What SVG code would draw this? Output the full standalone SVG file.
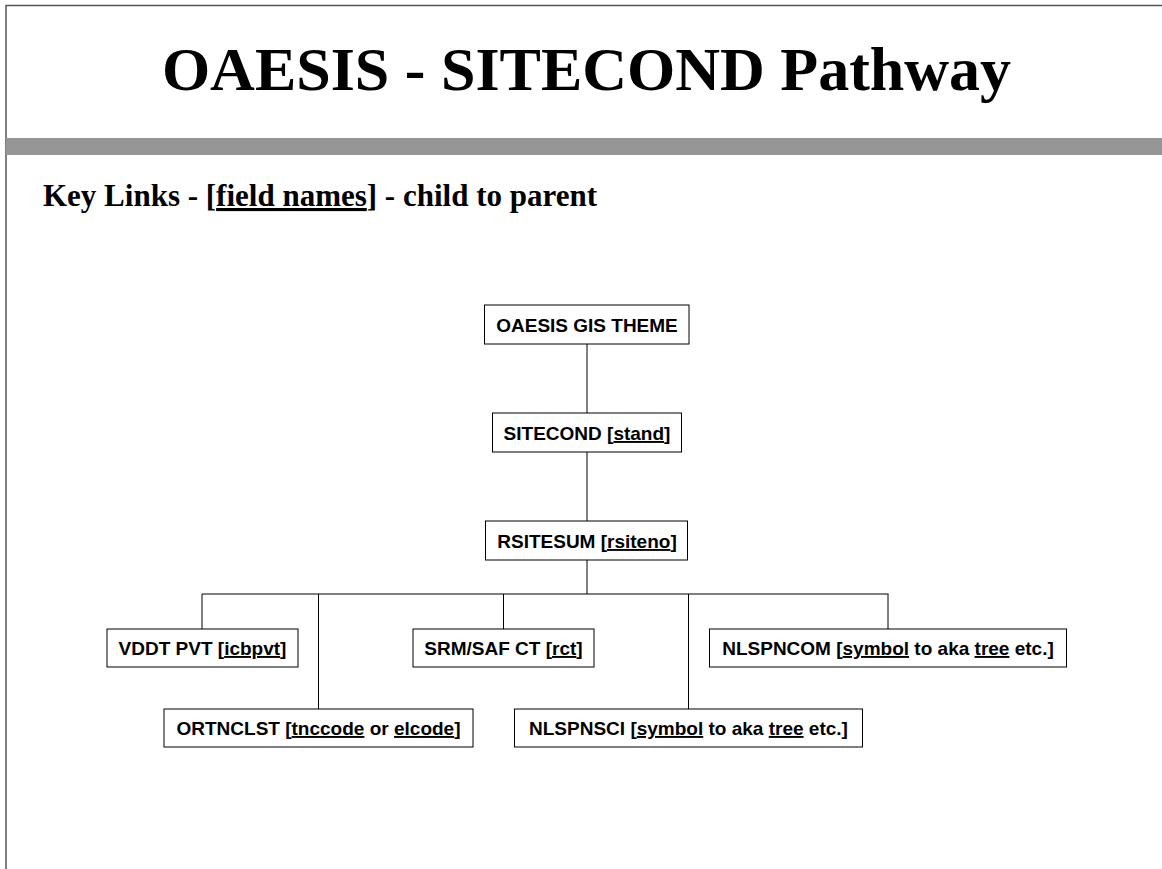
<svg xmlns="http://www.w3.org/2000/svg" width="1162" height="869" viewBox="0 0 1162 869">
<style>
.frame{fill:none;stroke:#555;stroke-width:1.5}
.bar{fill:#969696}
.title{font-family:"Liberation Serif","Times New Roman",serif;font-weight:bold;fill:#000}
.box{fill:#fff;stroke:#000;stroke-width:1}
.lbl{font-family:"Liberation Sans",Arial,sans-serif;font-weight:bold;font-size:19px;fill:#000;text-anchor:middle}
.u{text-decoration:underline}
.conn{fill:none;stroke:#000;stroke-width:1}
</style>
<rect x="0" y="0" width="1162" height="869" fill="#fff"/>
<path class="frame" d="M6,869 V5.5 H1162"/>
<rect class="bar" x="6" y="138" width="1156" height="17"/>
<text class="title" x="586.5" y="90" font-size="62" text-anchor="middle">OAESIS - SITECOND Pathway</text>
<text class="title" x="43" y="206" font-size="31">Key Links - [<tspan class="u">field names</tspan>] - child to parent</text>
<g id="connectors">
<path class="conn" d="M587,344 V413 M587,452 V521 M587,560 V594"/>
<path class="conn" d="M202,594 H888.5"/>
<path class="conn" d="M202,594 V629 M318.5,594 V709 M503.5,594 V629 M688.5,594 V709 M888,594 V629"/>
</g>
<g id="n-oaesis">
<rect class="box" x="484.5" y="305" width="204.5" height="39"/>
<text class="lbl" x="587" y="332">OAESIS GIS THEME</text>
</g>
<g id="n-sitecond">
<rect class="box" x="492.5" y="413" width="189" height="39"/>
<text class="lbl" x="587" y="440">SITECOND [<tspan class="u">stand</tspan>]</text>
</g>
<g id="n-rsitesum">
<rect class="box" x="485.5" y="521" width="202" height="39"/>
<text class="lbl" x="587" y="548">RSITESUM [<tspan class="u">rsiteno</tspan>]</text>
</g>
<g id="n-vddt">
<rect class="box" x="107" y="629" width="191" height="38"/>
<text class="lbl" x="202.5" y="655">VDDT PVT [<tspan class="u">icbpvt</tspan>]</text>
</g>
<g id="n-ortnclst">
<rect class="box" x="164" y="709" width="309" height="38"/>
<text class="lbl" x="318.5" y="735">ORTNCLST [<tspan class="u">tnccode</tspan> or <tspan class="u">elcode</tspan>]</text>
</g>
<g id="n-srm">
<rect class="box" x="413" y="629" width="181" height="38"/>
<text class="lbl" x="503.5" y="655">SRM/SAF CT [<tspan class="u">rct</tspan>]</text>
</g>
<g id="n-nlspnsci">
<rect class="box" x="514.5" y="709" width="348" height="38"/>
<text class="lbl" x="688.5" y="735">NLSPNSCI [<tspan class="u">symbol</tspan> to aka <tspan class="u">tree</tspan> etc.]</text>
</g>
<g id="n-nlspncom">
<rect class="box" x="709.5" y="629" width="357" height="38"/>
<text class="lbl" x="888" y="655">NLSPNCOM [<tspan class="u">symbol</tspan> to aka <tspan class="u">tree</tspan> etc.]</text>
</g>
</svg>
